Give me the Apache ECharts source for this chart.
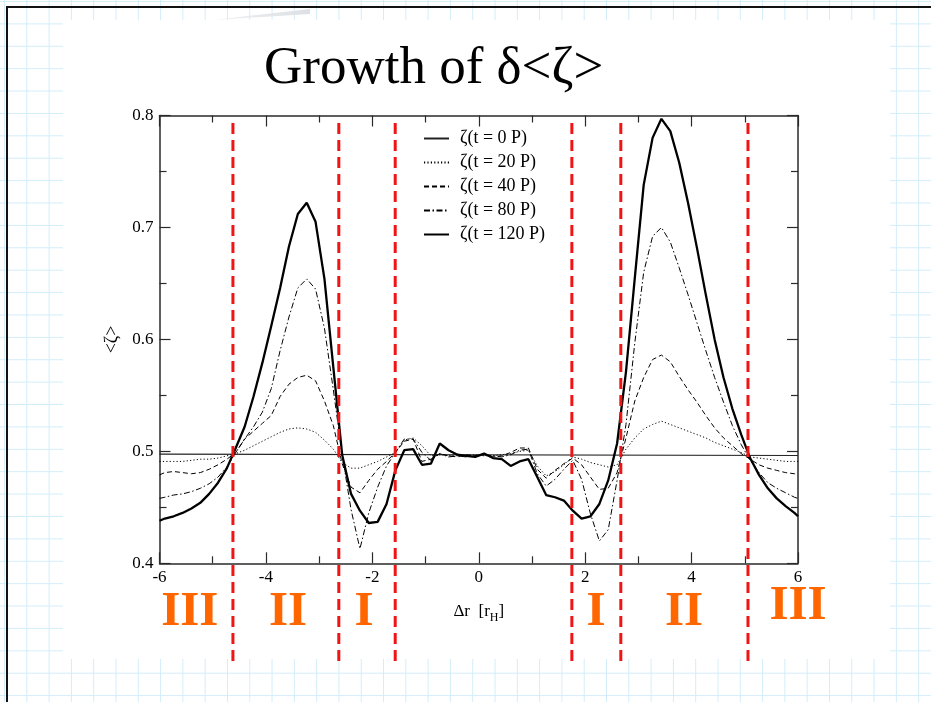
<!DOCTYPE html>
<html>
<head>
<meta charset="utf-8">
<script src="https://cdn.jsdelivr.net/npm/echarts@6/dist/echarts.min.js"></script>
<style>
  html, body { margin: 0; padding: 0; }
  body {
    width: 931px; height: 702px; position: relative; overflow: hidden;
    background-color: #ffffff;
    background-image:
      linear-gradient(to right, #d2edf9 1px, transparent 1px),
      linear-gradient(to bottom, #d2edf9 1px, transparent 1px);
    background-size: 22.3px 22.4px, 22.3px 22.4px;
    background-position: 4px 0, 0 1px;
  }
  #panel { position: absolute; left: 63px; top: 20px; width: 827px; height: 639px; background: #ffffff; }
  #swoosh { position: absolute; left: 213px; top: 9px; width: 97px; height: 11px;
            background: linear-gradient(to right, #eef0f2, #dde1e5);
            clip-path: polygon(0 100%, 100% 0, 100% 45%); }
  #frameTop { position: absolute; left: 6px; top: 6px; width: 925px; height: 2px; background: #111; }
  #frameLeft { position: absolute; left: 6px; top: 6px; width: 2px; height: 696px; background: #111; }
  #chart { position: absolute; left: 0; top: 0; width: 931px; height: 702px; }
</style>
</head>
<body>
<div id="panel"></div>
<div id="swoosh"></div>
<div id="frameTop"></div>
<div id="frameLeft"></div>
<div id="chart"></div>
<script>
// Radial offset grid (in Hill radii) shared by all profiles
const xs = [
  -6, -5.9, -5.733, -5.567, -5.4, -5.233, -5.067, -4.9, -4.733, -4.567,
  -4.4, -4.233, -4.067, -3.9, -3.733, -3.567, -3.4, -3.233, -3.067, -2.9,
  -2.733, -2.567, -2.4, -2.233, -2.067, -1.9, -1.733, -1.567, -1.4, -1.233,
  -1.067, -0.9, -0.733, -0.567, -0.4, -0.233, -0.067, 0.1, 0.267, 0.433,
  0.6, 0.767, 0.933, 1.1, 1.267, 1.433, 1.6, 1.767, 1.933, 2.1,
  2.267, 2.433, 2.6, 2.767, 2.933, 3.1, 3.267, 3.433, 3.6, 3.767,
  3.933, 4.1, 4.267, 4.433, 4.6, 4.767, 4.933, 5.1, 5.267, 5.433,
  5.6, 5.767, 5.933, 6
];

// Initial profile is flat
const xsT0 = [-6, 6];
const zetaT0 = [0.4975, 0.4963];

const zetaT20 = [
  0.491, 0.491, 0.491, 0.491, 0.492, 0.493, 0.493, 0.494, 0.496, 0.498,
  0.501, 0.505, 0.509, 0.513, 0.517, 0.520, 0.521, 0.520, 0.517, 0.510,
  0.502, 0.490, 0.485, 0.485, 0.488, 0.491, 0.495, 0.499, 0.510, 0.512,
  0.505, 0.496, 0.497, 0.496, 0.497, 0.496, 0.497, 0.496, 0.496, 0.497,
  0.498, 0.500, 0.501, 0.487, 0.478, 0.482, 0.488, 0.495, 0.493, 0.490,
  0.488, 0.486, 0.488, 0.502, 0.512, 0.520, 0.524, 0.527, 0.524, 0.521,
  0.518, 0.515, 0.512, 0.508, 0.505, 0.502, 0.499, 0.495, 0.494, 0.493,
  0.492, 0.491, 0.491, 0.491
];

const zetaT40 = [
  0.479, 0.481, 0.482, 0.481, 0.480, 0.481, 0.484, 0.488, 0.493, 0.499,
  0.511, 0.518, 0.525, 0.532, 0.549, 0.560, 0.566, 0.568, 0.563, 0.545,
  0.523, 0.489, 0.468, 0.463, 0.474, 0.484, 0.491, 0.499, 0.509, 0.511,
  0.491, 0.493, 0.498, 0.496, 0.495, 0.497, 0.496, 0.497, 0.495, 0.496,
  0.499, 0.503, 0.503, 0.484, 0.476, 0.483, 0.489, 0.494, 0.488, 0.477,
  0.466, 0.467, 0.481, 0.512, 0.545, 0.566, 0.582, 0.586, 0.580, 0.567,
  0.555, 0.544, 0.532, 0.521, 0.512, 0.505, 0.498, 0.493, 0.488, 0.485,
  0.483, 0.481, 0.480, 0.479
];

const zetaT80 = [
  0.458, 0.459, 0.461, 0.462, 0.464, 0.467, 0.471, 0.477, 0.486, 0.499,
  0.511, 0.522, 0.535, 0.556, 0.590, 0.620, 0.646, 0.654, 0.645, 0.610,
  0.555, 0.497, 0.448, 0.413, 0.445, 0.468, 0.487, 0.499, 0.511, 0.511,
  0.499, 0.492, 0.498, 0.495, 0.496, 0.495, 0.496, 0.497, 0.496, 0.495,
  0.497, 0.501, 0.502, 0.480, 0.469, 0.475, 0.484, 0.492, 0.475, 0.444,
  0.420, 0.430, 0.474, 0.524, 0.597, 0.660, 0.692, 0.700, 0.687, 0.664,
  0.640, 0.615, 0.590, 0.566, 0.544, 0.523, 0.506, 0.492, 0.481, 0.472,
  0.467, 0.463, 0.459, 0.458
];

const zetaT120 = [
  0.438, 0.440, 0.442, 0.445, 0.449, 0.454, 0.462, 0.472, 0.485, 0.503,
  0.522, 0.549, 0.579, 0.612, 0.646, 0.683, 0.712, 0.722, 0.705, 0.654,
  0.575, 0.497, 0.462, 0.447, 0.436, 0.437, 0.453, 0.483, 0.501, 0.502,
  0.488, 0.489, 0.507, 0.501, 0.497, 0.496, 0.495, 0.498, 0.494, 0.493,
  0.487, 0.491, 0.493, 0.477, 0.461, 0.459, 0.456, 0.447, 0.440, 0.442,
  0.453, 0.474, 0.507, 0.571, 0.655, 0.738, 0.780, 0.797, 0.786, 0.758,
  0.722, 0.682, 0.640, 0.600, 0.566, 0.538, 0.515, 0.494, 0.479, 0.467,
  0.458, 0.451, 0.445, 0.442
];

const seriesNames = ['ζ(t = 0 P)', 'ζ(t = 20 P)', 'ζ(t = 40 P)', 'ζ(t = 80 P)', 'ζ(t = 120 P)'];

// Region boundaries and region names along Δr
const boundaries = [-4.62, -2.63, -1.57, 1.75, 2.67, 5.06];
const regionNames = ['III', 'II', 'I', 'I', 'II', 'III'];
const regionX = [-5.43, -3.585, -2.157, 2.205, 3.858, 6.0];
const regionY = [0.09, 0.09, 0.09, 0.09, 0.09, 0.10];

const SERIF = "'Liberation Serif', 'Times New Roman', 'DejaVu Serif', serif";
const AXIS_COLOR = '#2a2a2a';
const ORANGE = '#ff6600';

const pairs = (xv, yv) => xv.map((x, i) => [x, yv[i]]);

function profile(name, data, lineStyle) {
  return {
    name, type: 'line', data, xAxisIndex: 0, yAxisIndex: 0,
    symbol: 'none', showSymbol: false, silent: true, z: 3,
    lineStyle: Object.assign({ color: '#000' }, lineStyle),
    itemStyle: { color: '#000' }
  };
}

const frameAxis = (extra) => Object.assign({
  axisLine: { show: true, onZero: false, lineStyle: { color: AXIS_COLOR, width: 1.5 } },
  axisTick: { show: true, inside: true, length: 11, lineStyle: { color: AXIS_COLOR, width: 1.2 } },
  minorTick: { show: true, splitNumber: 2, length: 7, lineStyle: { color: AXIS_COLOR, width: 1.2 } },
  splitLine: { show: false },
  minorSplitLine: { show: false }
}, extra);

const series = [
  profile(seriesNames[0], pairs(xsT0, zetaT0), { width: 1.1, color: '#222' }),
  profile(seriesNames[1], pairs(xs, zetaT20), { width: 1, type: [1.2, 2.2] }),
  profile(seriesNames[2], pairs(xs, zetaT40), { width: 1, type: [5, 3] }),
  profile(seriesNames[3], pairs(xs, zetaT80), { width: 1, type: [6, 2.5, 1.5, 2.5] }),
  profile(seriesNames[4], pairs(xs, zetaT120), { width: 2.3 })
];

boundaries.forEach((b) => {
  series.push({
    type: 'line', xAxisIndex: 2, yAxisIndex: 2, silent: true, z: 6,
    symbol: 'none', data: [[b, 0], [b, 1]],
    lineStyle: { color: '#f01414', width: 3, type: [11, 6] }
  });
});

series.push({
  type: 'scatter', xAxisIndex: 2, yAxisIndex: 2, silent: true, z: 7,
  symbolSize: 0, itemStyle: { color: ORANGE },
  data: regionX.map((x, i) => ({ value: [x, regionY[i]], name: regionNames[i] })),
  label: {
    show: true, position: 'inside', formatter: (p) => p.name,
    fontFamily: SERIF, fontWeight: 'bold', fontSize: 49, color: ORANGE,
    textBorderWidth: 0, opacity: 1
  }
});

const chart = echarts.init(document.getElementById('chart'), null, { renderer: 'canvas' });
chart.setOption({
  backgroundColor: 'transparent',
  animation: false,
  title: {
    text: 'Growth of δ<ζ>', left: 259, top: 38,
    textStyle: { fontFamily: SERIF, fontSize: 53, fontWeight: 'normal', color: '#000' }
  },
  legend: {
    data: seriesNames, orient: 'vertical', left: 423, top: 129.5, padding: 0,
    itemWidth: 25, itemHeight: 14, itemGap: 6,
    itemStyle: { color: 'rgba(0,0,0,0)', borderColor: 'rgba(0,0,0,0)', borderWidth: 0 },
    textStyle: { fontFamily: SERIF, fontSize: 18, color: '#000', padding: [0, 0, 0, 6] },
    selectedMode: false
  },
  grid: [
    { left: 159.5, top: 115.5, width: 638.5, height: 447.8 },
    { left: 159.5, top: 119, width: 638.5, height: 542 }
  ],
  xAxis: [
    frameAxis({
      type: 'value', gridIndex: 0, min: -6, max: 6, interval: 2, position: 'bottom',
      axisLabel: { fontFamily: SERIF, fontSize: 17, color: '#000', margin: 6 },
      name: '{a|Δr  [r}{s|H}{a|]}', nameLocation: 'middle', nameGap: 37,
      nameTextStyle: {
        rich: {
          a: { fontFamily: SERIF, fontSize: 17, color: '#000', lineHeight: 20, verticalAlign: 'bottom' },
          s: { fontFamily: SERIF, fontSize: 12, color: '#000', lineHeight: 20, verticalAlign: 'bottom', padding: [0, 0, -4, 0] }
        }
      }
    }),
    frameAxis({
      type: 'value', gridIndex: 0, min: -6, max: 6, interval: 2, position: 'top',
      axisLabel: { show: false }
    }),
    { type: 'value', gridIndex: 1, min: -6, max: 6, show: false }
  ],
  yAxis: [
    frameAxis({
      type: 'value', gridIndex: 0, min: 0.4, max: 0.8, interval: 0.1, position: 'left',
      axisLabel: { fontFamily: SERIF, fontSize: 17, color: '#000', margin: 6, formatter: (v) => v.toFixed(1) },
      name: '<ζ>', nameLocation: 'middle', nameGap: 27, nameRotate: 90,
      nameTextStyle: { fontFamily: SERIF, fontSize: 18, color: '#000' }
    }),
    frameAxis({
      type: 'value', gridIndex: 0, min: 0.4, max: 0.8, interval: 0.1, position: 'right',
      axisLabel: { show: false }
    }),
    { type: 'value', gridIndex: 1, min: 0, max: 1, show: false }
  ],
  series
});
</script>
</body>
</html>
